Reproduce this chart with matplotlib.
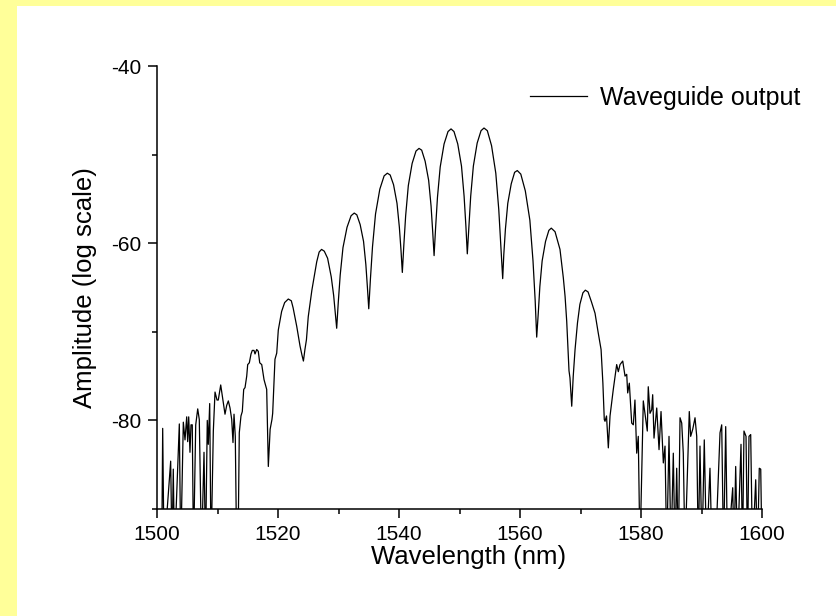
import matplotlib
matplotlib.use('Agg')
import matplotlib.pyplot as plt
from matplotlib.patches import Rectangle
from matplotlib.ticker import MultipleLocator
import numpy as np

plt.rcParams['font.family'] = ['Liberation Sans', 'DejaVu Sans']
plt.rcParams['axes.unicode_minus'] = False

# noisy floor, short wavelength side (values below -90 are clipped by the axis)
wl_left = [1500.0, 1500.78, 1500.94, 1501.16, 1502.26, 1502.48, 1502.69, 1502.89,
           1503.69, 1503.92, 1504.35, 1504.63, 1504.91, 1505.07, 1505.24, 1505.45,
           1505.62, 1505.83, 1506.03, 1506.4, 1506.73, 1506.99, 1507.36, 1507.77,
           1508.02, 1508.31, 1508.48, 1508.71, 1508.93, 1509.31, 1509.59, 1509.92,
           1510.13, 1510.53, 1510.86, 1511.24, 1511.52, 1511.79, 1512.07, 1512.35,
           1512.56, 1512.73, 1512.94, 1513.17, 1513.39, 1513.6, 1513.88, 1514.1,
           1514.33, 1514.55, 1514.83, 1514.99, 1515.26, 1515.54, 1515.75, 1516.03,
           1516.2, 1516.48, 1516.74, 1516.98, 1517.31, 1517.69, 1518.02, 1518.13]
amp_left = [-95, -95, -80.9, -95, -84.6, -95, -85.5, -95,
            -80.4, -95, -80.2, -82.2, -79.6, -82.4, -79.6, -83.6,
            -80.5, -80.5, -95, -80.5, -78.7, -79.9, -95, -83.6,
            -95, -80.0, -82.7, -78.1, -95, -81.2, -76.8, -77.7,
            -77.7, -76.0, -77.5, -79.3, -78.3, -77.8, -78.6, -79.9,
            -82.5, -79.3, -81.8, -95, -95, -81.4, -79.5, -79.0,
            -76.5, -76.3, -75.0, -73.7, -73.5, -72.5, -72.1, -72.1,
            -72.5, -72.0, -72.2, -73.5, -73.7, -75.4, -76.2, -76.5]

# main lobes
wl_main = [1518.4, 1518.7, 1519.0, 1519.12, 1519.34, 1519.5, 1519.79, 1520.05,
           1520.6, 1521.1, 1521.7, 1522.2, 1522.5, 1523.1, 1523.64, 1523.95, 1524.2,
           1524.45, 1524.7, 1525.0, 1525.6, 1526.4, 1526.8, 1527.2, 1527.65,
           1528.2, 1528.8, 1529.2, 1529.47, 1529.7,
           1529.96, 1530.28, 1530.74, 1531.41, 1532.08, 1532.6, 1533.03, 1533.58,
           1534.14, 1534.52, 1534.78, 1535.0,
           1535.28, 1535.62, 1536.12, 1536.83, 1537.54, 1538.07, 1538.54, 1539.1,
           1539.67, 1540.06, 1540.33, 1540.55,
           1540.8, 1541.1, 1541.54, 1542.17, 1542.81, 1543.31, 1543.75, 1544.32,
           1544.9, 1545.3, 1545.57, 1545.8,
           1546.05, 1546.36, 1546.81, 1547.45, 1548.1, 1548.6, 1549.09, 1549.71,
           1550.33, 1550.76, 1551.06, 1551.29,
           1551.55, 1551.85, 1552.29, 1552.92, 1553.56, 1554.05, 1554.6, 1555.3,
           1556.0, 1556.49, 1556.83, 1557.14,
           1557.32, 1557.59, 1557.98, 1558.55, 1559.11, 1559.55, 1560.13, 1560.88,
           1561.63, 1562.15, 1562.51, 1562.76,
           1563.02, 1563.28, 1563.66, 1564.22, 1564.77, 1565.17, 1565.79, 1566.61,
           1567.16, 1567.45, 1567.72, 1568.1, 1568.26, 1568.55,
           1568.8, 1569.1, 1569.5, 1569.9, 1570.4, 1570.8, 1571.25, 1571.8,
           1572.4, 1572.9, 1573.4, 1573.7, 1573.93, 1574.05, 1574.3, 1574.6, 1574.88]
amp_main = [-85.2, -81.0, -79.9, -79.2, -75.8, -73.1, -72.4, -69.8,
            -67.7, -66.7, -66.3, -66.5, -67.3, -69.4, -71.6, -72.6, -73.3,
            -72.0, -70.9, -68.3, -65.3, -62.1, -61.0, -60.7, -60.9,
            -61.7, -63.8, -65.9, -67.9, -69.6,
            -66.7, -63.6, -60.5, -58.2, -56.9, -56.6, -56.8, -57.9,
            -59.8, -62.4, -65.0, -67.4,
            -64.0, -60.4, -56.7, -53.9, -52.4, -52.1, -52.3, -53.4,
            -55.5, -58.2, -60.8, -63.3,
            -60.2, -56.9, -53.5, -51.0, -49.6, -49.3, -49.5, -50.75,
            -52.9, -55.8, -58.7, -61.4,
            -58.25, -54.8, -51.4, -48.8, -47.4, -47.1, -47.4, -48.8,
            -51.3, -54.7, -58.1, -61.2,
            -58.1, -54.7, -51.3, -48.7, -47.3, -47.0, -47.3, -49.0,
            -52.1, -56.2, -60.3, -64.0,
            -61.3, -58.4, -55.5, -53.3, -52.0, -51.8, -52.2, -54.1,
            -57.4, -62.0, -66.5, -70.6,
            -67.9, -64.9, -62.0, -59.8, -58.55, -58.3, -58.7, -60.7,
            -63.9, -66.0, -68.8, -74.4, -75.2, -78.4,
            -75.0, -72.0, -69.0, -66.9, -65.6, -65.3, -65.5, -66.6,
            -67.9, -70.0, -72.0, -75.8, -79.9, -80.1, -79.5, -83.1, -79.5]

# noisy floor, long wavelength side
wl_right = [1575.42, 1575.98, 1576.25, 1576.53, 1576.98, 1577.36, 1577.64, 1577.8,
            1578.07, 1578.46, 1578.73, 1579.0, 1579.29, 1579.55, 1579.83, 1580.38,
            1581.04, 1581.2, 1581.49, 1581.77, 1581.93, 1582.15, 1582.6, 1582.98,
            1583.31, 1583.69, 1583.97, 1584.25, 1584.63, 1584.96, 1585.34, 1585.62,
            1585.9, 1586.17, 1586.45, 1586.73, 1586.99, 1587.27, 1587.98, 1588.21,
            1588.55, 1588.93, 1589.21, 1589.47, 1589.75, 1590.08, 1590.46, 1590.83,
            1591.4, 1591.74, 1592.3, 1593.06, 1593.34, 1593.64, 1594.0, 1594.3,
            1595.16, 1595.37, 1595.65, 1595.95, 1596.53, 1596.78, 1597.02, 1597.36,
            1597.6, 1597.85, 1598.13, 1598.43, 1598.96, 1599.26, 1599.55, 1599.79, 1600.0]
amp_right = [-76.5, -73.7, -74.5, -73.7, -73.3, -75.0, -74.8, -76.9,
             -75.8, -80.3, -80.5, -77.7, -83.7, -81.8, -95, -77.8,
             -81.2, -76.2, -79.2, -78.8, -77.1, -82.0, -78.6, -83.3,
             -79.0, -84.8, -82.9, -95, -81.8, -95, -83.7, -95,
             -85.4, -95, -79.7, -80.3, -83.7, -95, -79.0, -81.8,
             -81.0, -79.7, -81.8, -95, -82.9, -95, -82.2, -95,
             -85.4, -95, -95, -81.4, -80.5, -95, -80.7, -95,
             -87.6, -95, -85.2, -95, -82.7, -95, -81.2, -81.8,
             -95, -81.8, -81.6, -95, -86.7, -95, -85.4, -85.5, -95]

wavelength = np.array(wl_left + wl_main + wl_right)
amplitude = np.array(amp_left + amp_main + amp_right)

fig = plt.figure(figsize=(8.36, 6.16), dpi=100, facecolor='#ffff99')
fig.patches.append(Rectangle((17 / 836, 0), 1, 1 - 6 / 616, transform=fig.transFigure,
                             facecolor='white', edgecolor='none', zorder=-10))
ax = fig.add_axes([157 / 836, 1 - 509 / 616, 605 / 836, 443 / 616])
ax.set_facecolor('none')

ax.plot(wavelength, amplitude, color='black', linewidth=0.9, label='Waveguide output')

ax.set_xlim(1500, 1600)
ax.set_ylim(-90, -40)
ax.xaxis.set_major_locator(MultipleLocator(20))
ax.xaxis.set_minor_locator(MultipleLocator(10))
ax.yaxis.set_major_locator(MultipleLocator(20))
ax.yaxis.set_minor_locator(MultipleLocator(10))

for side in ['top', 'right']:
    ax.spines[side].set_visible(False)
for side in ['left', 'bottom']:
    ax.spines[side].set_linewidth(1.1)

ax.tick_params(which='major', direction='out', length=6.5, width=1.1, labelsize=15, pad=5)
ax.tick_params(which='minor', direction='out', length=3.5, width=1.1)

ax.set_xlabel('Wavelength (nm)', fontsize=18.5, labelpad=1)
ax.xaxis.label.set_x(0.515)
ax.set_ylabel('Amplitude (log scale)', fontsize=18.5, labelpad=10)

ax.legend(loc='center right', bbox_to_anchor=(800 / 836, 1 - 98 / 616),
          bbox_transform=fig.transFigure, frameon=False, fontsize=18,
          handlelength=2.3, handletextpad=0.5, borderpad=0, borderaxespad=0)

fig.savefig('out.png', dpi=100, facecolor=fig.get_facecolor())
